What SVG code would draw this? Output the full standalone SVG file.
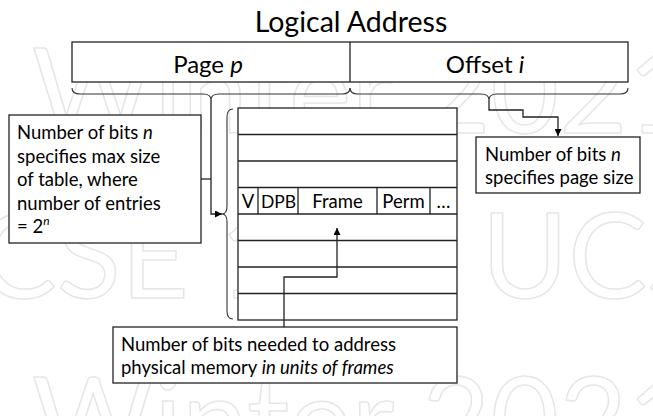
<svg xmlns="http://www.w3.org/2000/svg" width="653" height="416" viewBox="0 0 653 416">
<defs>
<marker id="ah" viewBox="0 0 10 10" refX="10" refY="5" markerWidth="7" markerHeight="7" orient="auto" markerUnits="userSpaceOnUse">
<path d="M0,0 L10,5 L0,10 z" fill="#000"/>
</marker>
</defs>
<style>
.t{font-family:Lato,"Liberation Sans",sans-serif;fill:#000;}
.s{font-size:18.5px;}
.b{fill:#fff;stroke:#222;stroke-width:1.3;}
.ln{fill:none;stroke:#222;stroke-width:1.3;}
.br{fill:none;stroke:#333;stroke-width:1.1;}
.wm{font-family:Lato,"Liberation Sans",sans-serif;font-size:118px;fill:none;stroke:#e6e6e6;stroke-width:1.5;}
</style>
<rect width="653" height="416" fill="#fff"/>
<g id="watermark">
<text class="wm" x="32" y="133">Winter 2021</text>
<text class="wm" x="-22" y="298">CSE 120, UCSD</text>
<text class="wm" x="32" y="462">Winter 2021</text>
</g>
<text class="t" x="351" y="32" font-size="28.5" text-anchor="middle">Logical Address</text>
<g id="address">
<rect class="b" x="72" y="42" width="556" height="40"/>
<line class="ln" x1="350" y1="42" x2="350" y2="82"/>
<text class="t" x="208" y="73" font-size="24" text-anchor="middle">Page <tspan font-style="italic">p</tspan></text>
<text class="t" x="485" y="73" font-size="24" text-anchor="middle">Offset <tspan font-style="italic">i</tspan></text>
</g>
<g id="braces">
<path class="br" d="M72 88 q0 6 8 6 H203 q8 0 8 6 q0 -6 8 -6 H342 q8 0 8 -6"/>
<path class="br" d="M350 88 q0 6 8 6 H481 q8 0 8 6 q0 -6 8 -6 H620 q8 0 8 -6"/>
<path class="br" d="M233 109 q-6 0 -6 8 V206 q0 8 -5 8 q5 0 5 8 V311 q0 8 6 8"/>
<path class="br" d="M297 216 q0 5 7 5 H330 q7 0 7 6 q0 -6 7 -6 H370 q7 0 7 -5"/>
</g>
<g id="table">
<rect class="b" x="238" y="108" width="219" height="212"/>
<line class="ln" x1="238" y1="134.5" x2="457" y2="134.5"/>
<line class="ln" x1="238" y1="161" x2="457" y2="161"/>
<line class="ln" x1="238" y1="187.5" x2="457" y2="187.5"/>
<line class="ln" x1="238" y1="214" x2="457" y2="214"/>
<line class="ln" x1="238" y1="240.5" x2="457" y2="240.5"/>
<line class="ln" x1="238" y1="267" x2="457" y2="267"/>
<line class="ln" x1="238" y1="293.5" x2="457" y2="293.5"/>
<line class="ln" x1="258" y1="187.5" x2="258" y2="214"/>
<line class="ln" x1="298" y1="187.5" x2="298" y2="214"/>
<line class="ln" x1="377" y1="187.5" x2="377" y2="214"/>
<line class="ln" x1="430" y1="187.5" x2="430" y2="214"/>
<text class="t" x="248" y="208" font-size="18.5" text-anchor="middle">V</text>
<text class="t" x="278.5" y="208" font-size="17.5" text-anchor="middle">DPB</text>
<text class="t" x="337.5" y="208" font-size="18.5" text-anchor="middle">Frame</text>
<text class="t" x="403.5" y="208" font-size="18.5" text-anchor="middle">Perm</text>
<text class="t" x="443.5" y="208" font-size="18.5" text-anchor="middle">…</text>
</g>
<g id="connectors">
<path class="ln" d="M211 100 V214 H222" marker-end="url(#ah)"/>
<path class="ln" d="M201 179 H211"/>
<path class="ln" d="M489 100 V110 H523 V117 H558 V136" marker-end="url(#ah)"/>
<path class="ln" d="M284 327 V277 H337 V228" marker-end="url(#ah)"/>
</g>
<g id="note-left">
<rect class="b" x="9" y="115" width="192" height="128"/>
<text class="t s" x="17" y="139">Number of bits <tspan font-style="italic">n</tspan></text>
<text class="t s" x="17" y="162.5">specifies max size</text>
<text class="t s" x="17" y="186">of table, where</text>
<text class="t s" x="17" y="209.5">number of entries</text>
<text class="t s" x="17" y="233">= 2<tspan font-style="italic" font-size="12" dy="-8">n</tspan></text>
</g>
<g id="note-right">
<rect class="b" x="476" y="137" width="164" height="56"/>
<text class="t s" x="485" y="161">Number of bits <tspan font-style="italic">n</tspan></text>
<text class="t s" x="485" y="184">specifies page size</text>
</g>
<g id="note-bottom">
<rect class="b" x="113" y="327" width="344" height="56"/>
<text class="t s" x="121" y="350.5">Number of bits needed to address</text>
<text class="t s" x="121" y="373.5">physical memory <tspan font-style="italic">in units of frames</tspan></text>
</g>
</svg>
